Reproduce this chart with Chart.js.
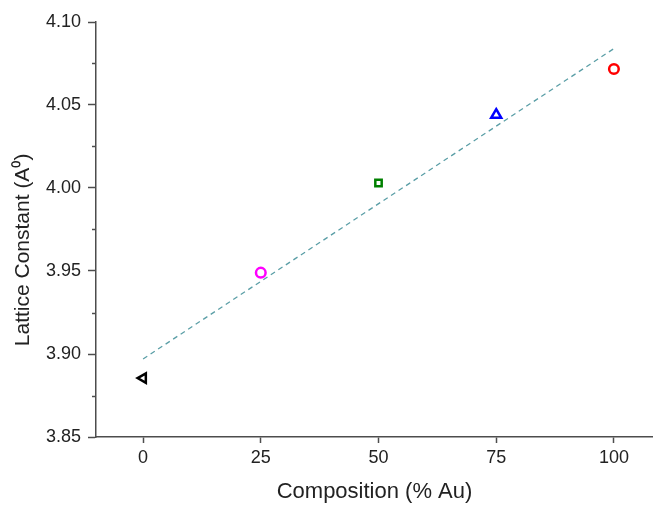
<!DOCTYPE html>
<html>
<head>
<meta charset="utf-8">
<script src="https://cdn.jsdelivr.net/npm/chart.js@4"></script>
<style>
  html, body { margin: 0; padding: 0; background: #fff; overflow: hidden; }
  #wrap { width: 653px; height: 505px; position: relative; }
</style>
</head>
<body>
<div id="wrap"><canvas id="chart"></canvas></div>
<script>
// measured lattice constants vs. Au content
const composition  = [0, 25, 50, 75, 100];
const latticeConst = [3.8855, 3.949, 4.003, 4.044, 4.0717];

// linear fit end points
const fitX = [0, 100];
const fitY = [3.897, 4.084];

const xTicks     = [0, 25, 50, 75, 100];
const yTicks     = [3.85, 3.90, 3.95, 4.00, 4.05, 4.10];
const yMinorTick = [3.875, 3.925, 3.975, 4.025, 4.075];

// one marker style per sample
const markerStyle  = ['triangle', 'circle', 'rect', 'triangle', 'circle'];
const markerColor  = ['#000000', '#ff00ff', '#008000', '#0000ff', '#ff0000'];
const markerRotate = [270, 0, 0, 0, 0];
const markerSize   = [5.5, 4.8, 4.5, 5.8, 4.8];

const AXIS = '#4d4d4d';
const FONT = 'Liberation Sans, Arial, sans-serif';

// short unlabeled ticks between the major y ticks
const minorTicks = {
  id: 'minorTicks',
  afterDraw(chart) {
    const y = chart.scales.y;
    const ctx = chart.ctx;
    ctx.save();
    ctx.strokeStyle = AXIS;
    ctx.lineWidth = 1.5;
    yMinorTick.forEach((v) => {
      const py = Math.round(y.getPixelForValue(v)) + 0.5;
      ctx.beginPath();
      ctx.moveTo(y.right - 4, py);
      ctx.lineTo(y.right, py);
      ctx.stroke();
    });
    ctx.restore();
  },
};

new Chart(document.getElementById('chart'), {
  type: 'scatter',
  data: {
    datasets: [
      {
        label: 'fit',
        type: 'line',
        data: fitX.map((x, i) => ({ x, y: fitY[i] })),
        borderColor: '#5a9ea6',
        borderWidth: 1.3,
        borderDash: [5, 4],
        pointRadius: 0,
        fill: false,
      },
      {
        label: 'samples',
        data: composition.map((x, i) => ({ x, y: latticeConst[i] })),
        pointStyle: markerStyle,
        rotation: markerRotate,
        pointRadius: markerSize,
        borderColor: markerColor,
        backgroundColor: 'rgba(255,255,255,0)',
        borderWidth: 2.5,
      },
    ],
  },
  options: {
    responsive: true,
    maintainAspectRatio: false,
    animation: false,
    layout: { autoPadding: false, padding: { top: 22, right: 0, left: 0, bottom: 0 } },
    plugins: {
      legend: { display: false },
      tooltip: { enabled: false },
    },
    scales: {
      x: {
        type: 'linear',
        min: -10,
        max: 108.3,
        afterBuildTicks: (s) => { s.ticks = xTicks.map((v) => ({ value: v })); },
        afterFit: (s) => { s.height = 68; },
        border: { display: true, color: AXIS, width: 1.5 },
        grid: { drawOnChartArea: false, drawTicks: true, tickLength: 6, tickColor: AXIS, tickWidth: 1.5 },
        ticks: { color: '#222', font: { family: FONT, size: 18 }, padding: 4, maxRotation: 0 },
        title: {
          display: true,
          text: 'Composition (% Au)',
          color: '#222',
          font: { family: FONT, size: 22 },
          padding: { top: 3, bottom: 0 },
        },
      },
      y: {
        type: 'linear',
        min: 3.85,
        max: 4.10,
        afterBuildTicks: (s) => { s.ticks = yTicks.map((v) => ({ value: v })); },
        afterFit: (s) => { s.width = 96; },
        border: { display: true, color: AXIS, width: 1.5 },
        grid: { drawOnChartArea: false, drawTicks: true, tickLength: 8, tickColor: AXIS, tickWidth: 1.5 },
        ticks: {
          color: '#222',
          font: { family: FONT, size: 18 },
          padding: 7,
          callback: (v) => v.toFixed(2),
        },
        title: {
          display: true,
          // trailing spaces push the label a little below the axis midpoint
          text: 'Lattice Constant (A\u2070)\u00a0\u00a0\u00a0\u00a0\u00a0\u00a0\u00a0',
          color: '#222',
          font: { family: FONT, size: 21 },
          padding: { top: 11, bottom: 0 },
        },
      },
    },
  },
  plugins: [minorTicks],
});
</script>
</body>
</html>
